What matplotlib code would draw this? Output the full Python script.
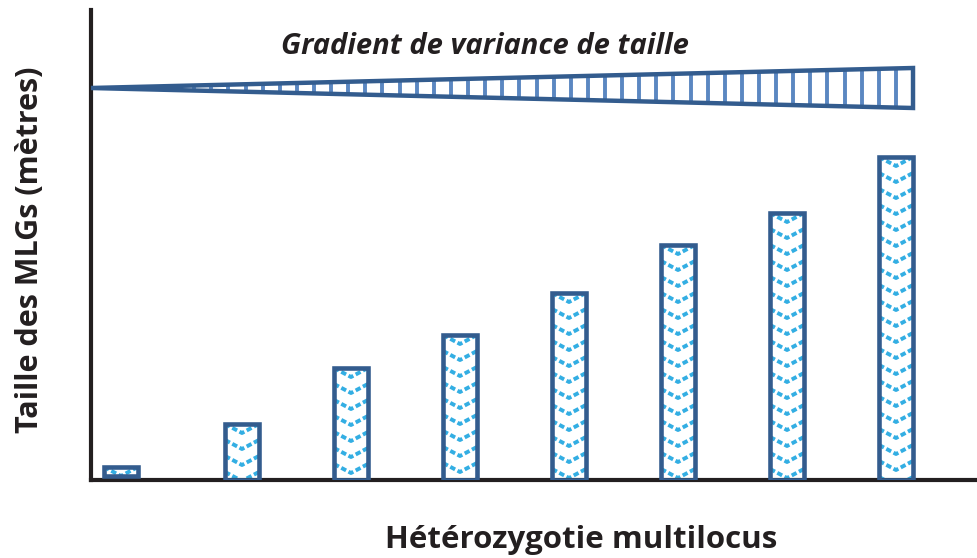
import matplotlib
matplotlib.use('Agg')
import matplotlib.pyplot as plt
import numpy as np
from matplotlib.collections import LineCollection
from matplotlib.patches import Polygon

plt.rcParams['font.family'] = ['Open Sans', 'DejaVu Sans']

# bar positions and heights (arbitrary size units)
positions = [0.89, 2, 3, 4, 5, 6, 7, 8]
heights = [9, 56, 112, 145, 187, 235, 267, 323]
bases = [4, 0, 0, 0, 0, 0, 0, 0]

# variance wedge: apex on the y axis, opening to the right
wedge_x = [0.615, 8.156]
wedge_mid = 392
wedge_half = [0, 20]

xlabel = 'Hétérozygotie multilocus'
ylabel = 'Taille des MLGs (mètres)'
wedge_title = 'Gradient de variance de taille'

dark = '#335C8E'
light = '#33AEE3'
stripe = '#5B87C1'

fig = plt.figure(figsize=(9.77, 5.58), dpi=100)
ax = fig.add_axes([91/977, 78/558, 886/977, 470/558])
ax.set_xlim(0.615, 8.743)
ax.set_ylim(0, 470)

for s in ['top', 'right']:
    ax.spines[s].set_visible(False)
for s in ['left', 'bottom']:
    ax.spines[s].set_linewidth(3)
    ax.spines[s].set_color('#231F20')
    ax.spines[s].set_capstyle('projecting')
ax.set_xticks([])
ax.set_yticks([])

bars = ax.bar(positions, heights, width=0.31, bottom=bases, facecolor='none',
              edgecolor=dark, linewidth=3.3, zorder=3)

# zigzag fill inside every bar
period = 16
depth = 9
for b in bars:
    x0, y0 = b.get_x(), b.get_y()
    w, h = b.get_width(), b.get_height()
    segs = []
    y = y0 + h + period
    while y > y0 - period:
        segs.append([(x0, y), (x0 + w/2, y - depth), (x0 + w, y)])
        y -= period
    lc = LineCollection(segs, colors=light, linewidths=2.8,
                        linestyles=(0, (1.4, 0.7)), zorder=2.5)
    ax.add_collection(lc)
    lc.set_clip_path(b)

# wedge outline with vertical stripes
pts = [(wedge_x[0], wedge_mid + wedge_half[0]),
       (wedge_x[1], wedge_mid + wedge_half[1]),
       (wedge_x[1], wedge_mid - wedge_half[1]),
       (wedge_x[0], wedge_mid - wedge_half[0])]
wedge = Polygon(pts, closed=True, facecolor='none', edgecolor=dark,
                linewidth=3.2, joinstyle='miter', zorder=4, clip_on=False)
ax.add_patch(wedge)
xs = np.arange(wedge_x[1] - 0.157, wedge_x[0], -0.157)
vl = ax.vlines(xs, wedge_mid - 25, wedge_mid + 25, colors=stripe,
               linewidth=2.8, zorder=3.5)
vl.set_clip_path(wedge)

fig.text(485/977, 1 - 47/558, wedge_title, ha='center', va='center',
         fontsize=21, fontweight='bold', fontstyle='italic', color='#231F20')
fig.text(581/977, 1 - 540/558, xlabel, ha='center', va='center',
         fontsize=22.5, fontweight='bold', color='#231F20')
fig.text(30/977, 1 - 250/558, ylabel, ha='center', va='center', rotation=90,
         fontsize=22, fontweight='bold', color='#231F20')

fig.savefig('out.png', dpi=100, facecolor='white')
